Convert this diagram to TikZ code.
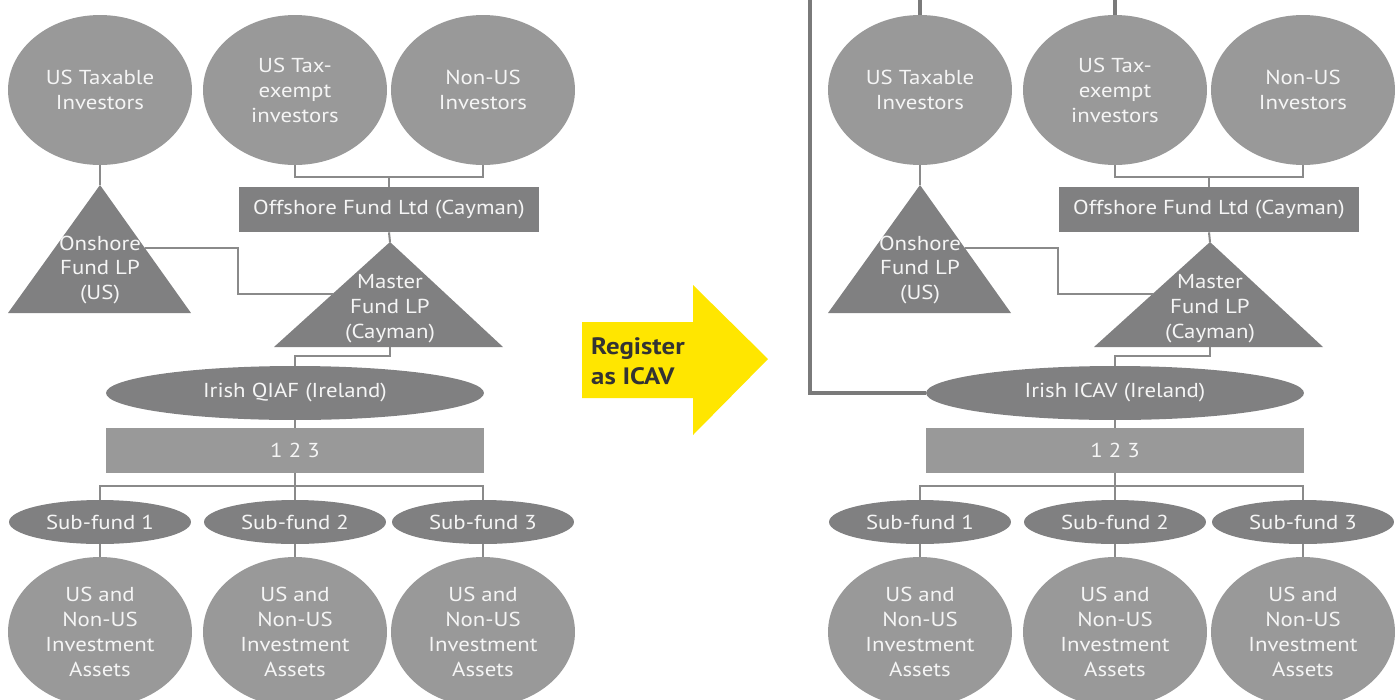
\documentclass[tikz,border=0pt]{standalone}
\usepackage{fontspec}
\setmainfont[FakeStretch = 1.13]{PT Sans}
\usetikzlibrary{calc}
\usetikzlibrary{shapes.geometric}
\definecolor{ltgray}{HTML}{999999}
\definecolor{dkgray}{HTML}{808081}
\definecolor{lnkgray}{HTML}{8A8A8A}
\definecolor{thkgray}{HTML}{7A7A7A}
\definecolor{eyyellow}{HTML}{FFE600}
\definecolor{regtext}{HTML}{333333}
\tikzset{lbl/.style = {text = white!96!black, align = center,
                       font = \fontsize{11.5}{14.2}\selectfont}}
\tikzset{inv/.style = {lbl, ellipse, fill = ltgray, inner sep = 0,
                       minimum width = 3.68cm, minimum height = 3cm}}
\tikzset{subf/.style = {lbl, ellipse, fill = dkgray, inner sep = 0,
                        minimum width = 3.64cm, minimum height = 0.88cm}}
\tikzset{fundbox/.style = {lbl, rectangle, inner sep = 0}}
\tikzset{link/.style = {draw = lnkgray, line width = 1.15pt}}
\tikzset{thicklink/.style = {draw = thkgray, line width = 2.3pt}}

\begin{document}
\begin{tikzpicture}[x = 0.02cm, y = -0.02cm]
      \useasboundingbox (0, 0) rectangle (1400, 700);
      \clip (0, 0) rectangle (1400, 700);

      \foreach \ox/\sf/\fundname in {0/L/Irish QIAF (Ireland), 820/R/Irish ICAV (Ireland)} {
        % investors
        \node [inv] (tax\sf) at (\ox + 100, 90) {US Taxable\\Investors};
        \node [inv] (exempt\sf) at (\ox + 295, 90) {US Tax-\\exempt\\investors};
        \node [inv] (nonus\sf) at (\ox + 483, 90) {Non-US\\Investors};

        \node [fundbox, fill = dkgray, minimum width = 6.02cm, minimum height = 0.9cm]
          (offshore\sf) at (\ox + 389, 209.5) {Offshore Fund Ltd (Cayman)};

        % triangles
        \coordinate (onapex\sf) at (\ox + 100, 185);
        \coordinate (onright\sf) at (\ox + 191, 313);
        \coordinate (maapex\sf) at (\ox + 390, 242);
        \coordinate (maleft\sf) at (\ox + 274, 347);
        \coordinate (mabase\sf) at (\ox + 390, 347);
        \fill [dkgray] (onapex\sf) -- (onright\sf) -- (\ox + 8, 313) -- cycle;
        \fill [dkgray] (maapex\sf) -- (\ox + 503, 347) -- (maleft\sf) -- cycle;
        \node [lbl] (onshore\sf) at (\ox + 100, 270) {Onshore\\Fund LP\\(US)};
        \node [lbl] (master\sf) at (\ox + 390, 309) {Master\\Fund LP\\(Cayman)};
        \coordinate (onedge\sf) at ($(onapex\sf)!0.49!(onright\sf)$);
        \coordinate (maedge\sf) at ($(maapex\sf)!0.495!(maleft\sf)$);

        \node [lbl, ellipse, fill = dkgray, inner sep = 0, minimum width = 7.56cm,
               minimum height = 1.08cm] (irish\sf) at (\ox + 295, 393) {\fundname};
        \node [fundbox, fill = ltgray, minimum width = 7.58cm, minimum height = 0.9cm]
          (umbrella\sf) at (\ox + 295, 450.5) {1 2 3};

        \foreach \i/\cx in {1/100, 2/295, 3/483} {
          \node [subf] (sub\sf\i) at (\ox + \cx, 522) {Sub-fund \i};
          \node [inv] (asset\sf\i) at (\ox + \cx, 632) {US and\\Non-US\\Investment\\Assets};
          \draw [link] (sub\sf\i.south) -- (asset\sf\i.north);
        }

        % connectors
        \draw [link] (exempt\sf.south) -- ++(0, 12) -| (nonus\sf.south);
        \draw [link] (offshore\sf.north) -- ++(0, -10);
        \draw [link] (offshore\sf.south) -- (maapex\sf);
        \draw [link] (tax\sf.south) -- (onapex\sf);
        \draw [link] (onedge\sf) -| (offshore\sf.south west |- maedge\sf) -- (maedge\sf);
        \draw [link] (mabase\sf) -- ++(0, 9) -| (irish\sf.north);
        \draw [link] (irish\sf.south) -- (umbrella\sf.north);
        \draw [link] (umbrella\sf.south) -- (sub\sf2.north);
        \draw [link] (sub\sf1.north) -- ++(0, -14) -| (sub\sf3.north);
      }

      % direct holdings after registration
      \coordinate (topleft) at (810, -10);
      \draw [thicklink] (irishR.west) -| (topleft);
      \draw [thicklink] (taxR.north) -- ++(0, -30);
      \draw [thicklink] (exemptR.north) -- ++(0, -30);

      % arrow
      \fill [eyyellow] (582, 322) -- (693, 322) -- (693, 285) -- (768, 359)
                       -- (693, 435) -- (693, 398) -- (582, 398) -- cycle;
      \node [anchor = west, align = left, text = regtext,
             font = \fontsize{13.5}{17}\selectfont\bfseries] (register) at (585, 361)
            {Register\\as ICAV};
    \end{tikzpicture}
\end{document}
